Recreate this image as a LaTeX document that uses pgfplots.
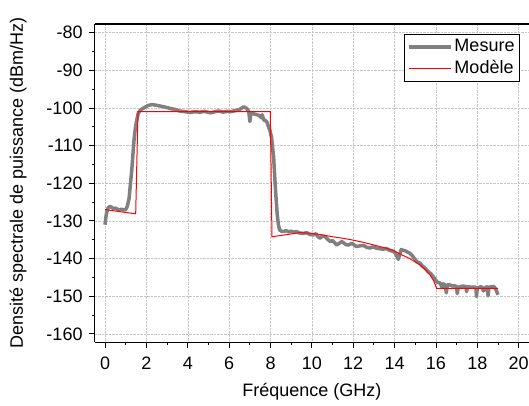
\documentclass[border=0pt]{standalone}
\usepackage{fontspec}
\setmainfont{Liberation Sans}
\usepackage{pgfplots}
\pgfplotsset{compat=1.18}
\newcommand{\ff}{\fontsize{18}{21}\selectfont}
\begin{document}
\ff
\begin{tikzpicture}
\begin{axis}[
  scale only axis, width=434pt, height=318pt,
  xmin=-0.5, xmax=20.5, ymin=-162.2, ymax=-77.7,
  axis x line*=box, axis y line*=left,
  xtick pos=bottom, ytick pos=left,
  xtick={0,2,...,20}, ytick={-160,-150,...,-80},
  minor xtick={1,3,...,19}, minor ytick={-155,-145,...,-85},
  tick align=outside,
  major tick length=6pt, minor tick length=3pt,
  every tick/.style={black, line width=0.9pt},
  axis line style={black, line width=1.1pt},
  grid=major, major grid style={densely dotted, black!22, line width=0.6pt},
  /pgf/number format/assume math mode=true,
  tick label style={font=\ff},
  xticklabel style={yshift=-3pt},
  xlabel={Fréquence (GHz)},
  ylabel={Densité spectrale de puissance (dBm/Hz)},
  every axis x label/.style={at={(axis description cs:0.5,-0.157)}, anchor=center, font=\ff},
  every axis y label/.style={at={(axis description cs:-0.1767,0.5)}, anchor=center, rotate=90, font=\ff},
  legend style={at={(axis description cs:1,1)}, anchor=north east, xshift=-9pt, yshift=-10pt,
    draw=black, line width=0.9pt, font=\ff, inner xsep=3pt, inner ysep=2pt,
    nodes={inner xsep=2pt, inner ysep=3pt}, row sep=0pt},
  legend cell align=left,
  legend image code/.code={\draw[#1] (0pt,0pt) -- (42pt,0pt);},
]
\addplot[color={rgb,255:red,128;green,128;blue,128}, line width=3.5pt, line join=round] coordinates {
(0.00,-131.0) (0.05,-128.5) (0.12,-126.8) (0.20,-126.2) (0.30,-126.3) (0.40,-126.7)
(0.50,-126.6) (0.60,-126.9) (0.70,-127.0) (0.80,-126.9) (0.90,-127.1) (1.00,-127.0)
(1.08,-126.0) (1.16,-124.0) (1.22,-120.5) (1.29,-116.5) (1.35,-112.0) (1.40,-108.5)
(1.46,-105.5) (1.52,-103.5) (1.60,-101.5) (1.70,-100.6) (1.80,-100.2) (1.96,-99.7)
(2.10,-99.3) (2.29,-99.1) (2.50,-99.3) (2.77,-99.6) (3.00,-99.9) (3.20,-100.2)
(3.41,-100.4) (3.60,-100.8) (3.90,-101.0) (4.10,-101.2) (4.30,-101.0) (4.60,-101.1)
(4.80,-100.9) (5.10,-101.3) (5.30,-101.0) (5.50,-100.8) (5.70,-101.1) (5.90,-100.9)
(6.06,-101.0) (6.30,-100.7) (6.50,-100.4) (6.70,-99.7) (6.85,-100.1) (6.95,-101.0)
(7.00,-103.6) (7.05,-101.3) (7.20,-101.6) (7.35,-101.8) (7.45,-102.0) (7.55,-102.6)
(7.60,-101.8) (7.67,-103.2) (7.75,-103.3) (7.83,-103.8) (7.90,-105.0) (7.97,-106.0)
(8.05,-107.8) (8.10,-110.5) (8.15,-113.0) (8.20,-118.0) (8.25,-122.5) (8.32,-128.0)
(8.38,-131.0) (8.44,-132.4) (8.55,-132.8) (8.63,-132.8) (8.75,-132.6) (8.90,-132.9)
(9.00,-132.7) (9.10,-133.0) (9.25,-132.8) (9.40,-133.2) (9.60,-133.3) (9.75,-133.1)
(9.90,-133.6) (10.08,-133.7) (10.20,-133.4) (10.30,-134.2) (10.40,-134.6) (10.50,-134.0)
(10.65,-134.2) (10.75,-134.8) (10.90,-135.5) (11.00,-135.2) (11.10,-135.8) (11.20,-136.4)
(11.30,-136.0) (11.45,-135.5) (11.55,-135.9) (11.65,-136.3) (11.77,-136.4) (11.90,-136.0)
(12.00,-136.2) (12.15,-136.8) (12.33,-136.6) (12.50,-136.5) (12.65,-137.0) (12.80,-137.2)
(12.95,-136.9) (13.10,-137.2) (13.30,-137.4) (13.46,-137.5) (13.60,-137.3) (13.75,-137.8)
(13.94,-138.1) (14.05,-138.6) (14.12,-139.5) (14.18,-140.2) (14.25,-138.8) (14.32,-137.6)
(14.42,-137.8) (14.50,-137.9) (14.60,-138.2) (14.75,-138.6) (14.85,-139.2) (14.95,-139.9)
(15.07,-140.8) (15.23,-141.2) (15.35,-142.0) (15.45,-142.4) (15.55,-143.0) (15.65,-143.6)
(15.75,-144.0) (15.87,-144.8) (15.95,-145.4) (16.05,-146.2) (16.20,-146.5) (16.30,-147.6)
(16.35,-146.7) (16.45,-147.0) (16.50,-149.1) (16.55,-147.0) (16.68,-147.0) (16.80,-147.3)
(16.90,-147.2) (17.00,-147.4) (17.03,-149.3) (17.08,-147.6) (17.30,-147.3) (17.45,-147.4)
(17.48,-148.8) (17.52,-147.5) (17.80,-147.6) (17.93,-147.6) (17.96,-150.1) (18.00,-147.8)
(18.20,-147.4) (18.30,-148.6) (18.40,-147.6) (18.48,-147.5) (18.52,-149.9) (18.56,-147.6)
(18.80,-147.4) (18.90,-148.2) (19.00,-149.6)
};
\addlegendentry{Mesure}
\addplot[color=red, line width=1pt] coordinates {
(0,-127.0) (1.48,-128.1) (1.59,-101.0) (7.99,-101.0) (8.07,-134.2) (9.44,-133.1)
(10.0,-133.3) (10.5,-133.7) (11.0,-134.2) (11.5,-134.6) (12.0,-135.1) (12.5,-135.7)
(13.0,-136.4) (13.5,-137.1) (13.94,-137.8) (14.2,-138.6) (14.42,-139.2) (14.7,-139.9)
(15.0,-140.9) (15.23,-141.7) (15.45,-142.8) (15.71,-144.3) (15.9,-146.0) (16.03,-147.9)
(19.0,-147.9)
};
\addlegendentry{Modèle}
\end{axis}
\pgfresetboundingbox
\path[use as bounding box] ([xshift=-94.7pt,yshift=-63pt]current axis.south west) rectangle ([yshift=24pt]current axis.north east);
\end{tikzpicture}
\end{document}
